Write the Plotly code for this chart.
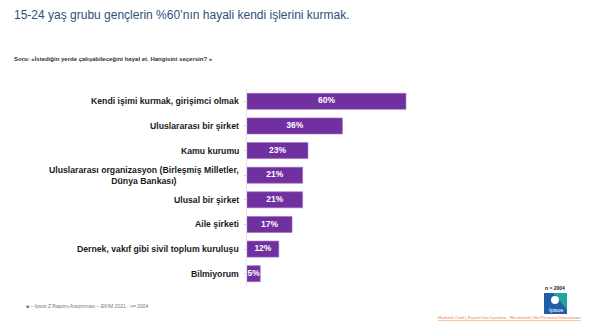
import plotly.graph_objects as go

# Survey answers (top to bottom) and shares in percent
categories = [
    "Kendi işimi kurmak, girişimci olmak",
    "Uluslararası bir şirket",
    "Kamu kurumu",
    "Uluslararası organizasyon (Birleşmiş Milletler,<br>Dünya Bankası)",
    "Ulusal bir şirket",
    "Aile şirketi",
    "Dernek, vakıf gibi sivil toplum kuruluşu",
    "Bilmiyorum",
]
values = [60, 36, 23, 21, 21, 17, 12, 5]
value_labels = [f"{v}%" for v in values]

title_text = "15-24 yaş grubu gençlerin %60’nın hayali kendi işlerini kurmak."
question_text = "Soru: «İstediğin yerde çalışabileceğini hayal et. Hangisini seçersin? »"
source_text = "■ – Ipsos Z Raporu Araştırması – EKİM 2021 - n= 2004"
sample_text = "n = 2004"
class_text = "Hizmete Özel | Kişisel Veri İçermez - Restricted | No Personal Information"

FONT = "Arial, Liberation Sans, sans-serif"
PURPLE = "#7030a0"

W, H = 602, 326
ML, MR, MT, MB = 247, 22, 89, 40

fig = go.Figure(
    go.Bar(
        x=values,
        y=categories,
        orientation="h",
        marker=dict(color=PURPLE, line=dict(color="#9a6cc0", width=0.6)),
        width=0.65,
        hoverinfo="skip",
    )
)

# Value labels centred on each bar, kept at full size even for short bars
fig.add_trace(go.Scatter(
    x=[v / 2 for v in values],
    y=categories,
    mode="text",
    text=[f"<b>{t}</b>" for t in value_labels],
    textposition="middle center",
    textfont=dict(family=FONT, size=8.5, color="white"),
    cliponaxis=False,
    hoverinfo="skip",
))

# Category labels as annotations so wrapped lines stay centred
annotations = []
for cat in categories:
    annotations.append(dict(
        x=0, xref="paper", y=cat, yref="y",
        text=f"<b>{cat}</b>", showarrow=False,
        xanchor="right", yanchor="middle", xshift=-6, align="center",
        font=dict(family=FONT, size=8.7, color="#1a1a1a"),
    ))

annotations += [
    dict(x=12, y=H - 15, xref="paper", yref="paper", text=title_text),
    dict(x=12, y=H - 59, xref="paper", yref="paper", text=question_text),
    dict(x=24, y=H - 306, xref="paper", yref="paper", text=source_text),
    dict(x=555, y=H - 288, xref="paper", yref="paper", text=sample_text),
    dict(x=583, y=H - 317, xref="paper", yref="paper", text=class_text),
]

fig.update_layout(
    width=W, height=H,
    margin=dict(l=ML, r=MR, t=MT, b=MB),
    paper_bgcolor="white", plot_bgcolor="white",
    showlegend=False,
    xaxis=dict(range=[0, 125.7], visible=False, fixedrange=True),
    yaxis=dict(
        autorange="reversed", showticklabels=False,
        ticks="outside", ticklen=2, tickcolor="#d0d0d0",
        showline=True, linecolor="#e4e4e4", linewidth=1,
        showgrid=False, zeroline=False,
    ),
    annotations=annotations,
)

# Convert the pixel-positioned page texts to paper coordinates
pw, ph = W - ML - MR, H - MT - MB
page_styles = [
    dict(size=12, color="#2f5079", anchor="left", bold=False),
    dict(size=6, color="#333333", anchor="left", bold=True),
    dict(size=5, color="#777777", anchor="left", bold=False),
    dict(size=5, color="#222222", anchor="center", bold=True),
    dict(size=4.4, color="#f07a3a", anchor="right", bold=False),
]
anns = list(fig.layout.annotations)
for ann, st in zip(anns[len(categories):], page_styles):
    ann.x = (ann.x - ML) / pw
    ann.y = (ann.y - MB) / ph
    ann.xanchor = st["anchor"]
    ann.yanchor = "middle"
    ann.showarrow = False
    ann.font = dict(family=FONT, size=st["size"], color=st["color"])
    if st["bold"]:
        ann.text = f"<b>{ann.text}</b>"
    if st["color"] == "#f07a3a":
        ann.text = f"<u>{ann.text}</u>"
fig.layout.annotations = anns

# Ipsos logo block
def px_x(v):
    return (v - ML) / pw

def px_y(v):
    return (H - v - MB) / ph

fig.add_shape(type="rect", xref="paper", yref="paper",
              x0=px_x(544), x1=px_x(567), y0=px_y(314), y1=px_y(293),
              fillcolor="#1f5fa8", line=dict(width=0))
fig.add_shape(type="path", xref="paper", yref="paper",
              path=(f"M {px_x(553)} {px_y(293)} L {px_x(567)} {px_y(293)} "
                    f"L {px_x(567)} {px_y(310)} Q {px_x(560)} {px_y(300)} {px_x(553)} {px_y(293)} Z"),
              fillcolor="#1fa59a", line=dict(width=0))
fig.add_shape(type="circle", xref="paper", yref="paper",
              x0=px_x(551), x1=px_x(559), y0=px_y(304), y1=px_y(296),
              fillcolor="white", line=dict(width=0))
fig.add_annotation(x=px_x(555.5), y=px_y(309.5), xref="paper", yref="paper",
                   text="Ipsos", showarrow=False, xanchor="center", yanchor="middle",
                   font=dict(family=FONT, size=6, color="white"))

fig.write_html("out.html")
